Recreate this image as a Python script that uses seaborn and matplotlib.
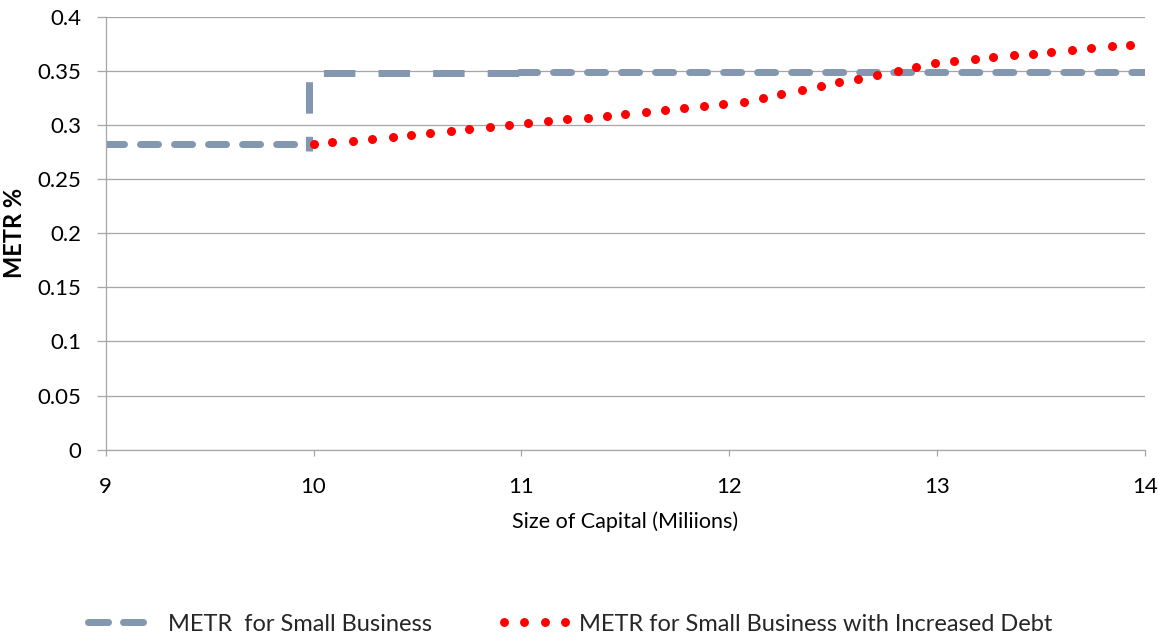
import matplotlib
matplotlib.use("Agg")
import matplotlib.pyplot as plt
from matplotlib.lines import Line2D
import seaborn as sns

# METR for a small business: flat below 10M capital, step up at the threshold
base_low_x = [9.0, 9.98]
base_low_y = [0.2826, 0.2826]
base_step_x = [9.98, 9.98, 10.99]
base_step_y = [0.276, 0.3483, 0.3483]
base_high_x = [10.99, 14.0]
base_high_y = [0.3495, 0.3495]

# METR for a small business with increased debt
debt_x = [10.00, 10.09, 10.19, 10.28, 10.38, 10.47, 10.56, 10.66, 10.75, 10.85,
          10.94, 11.03, 11.13, 11.22, 11.32, 11.41, 11.50, 11.60, 11.69, 11.78,
          11.88, 11.97, 12.07, 12.16, 12.25, 12.35, 12.44, 12.53, 12.62, 12.71,
          12.81, 12.90, 12.99, 13.08, 13.18, 13.27, 13.37, 13.46, 13.55, 13.65,
          13.74, 13.84, 13.93]
debt_y = [0.2829, 0.2844, 0.2859, 0.2875, 0.2896, 0.2915, 0.2933, 0.2949, 0.2968, 0.2986,
          0.3005, 0.3023, 0.3039, 0.3055, 0.3072, 0.3088, 0.3109, 0.3125, 0.3144, 0.3159,
          0.3178, 0.3196, 0.3220, 0.3257, 0.3294, 0.3329, 0.3366, 0.3398, 0.3433, 0.3470,
          0.3505, 0.3542, 0.3579, 0.3597, 0.3613, 0.3631, 0.3650, 0.3665, 0.3681, 0.3696,
          0.3715, 0.3733, 0.3748]

x_ticks = [9, 10, 11, 12, 13, 14]
y_ticks = [0, 0.05, 0.1, 0.15, 0.2, 0.25, 0.3, 0.35, 0.4]
y_tick_labels = ["0", "0.05", "0.1", "0.15", "0.2", "0.25", "0.3", "0.35", "0.4"]

series_names = ["METR  for Small Business", "METR for Small Business with Increased Debt"]

GRAY = "#8497B0"
RED = "#FF0000"
AXIS = "#A6A6A6"
LW = 5.04  # ~7 px

sns.set_theme(style="white")
plt.rcParams["font.family"] = ["Lato", "DejaVu Sans"]

fig = plt.figure(figsize=(11.59, 6.37), dpi=100)
ax = fig.add_axes([0.0912, 0.2943, 0.8967, 0.6785])

round_dash = (0, (2.57, 2.29))
butt_dash = (2.4, (4.5, 3.3))

sns.lineplot(x=base_low_x, y=base_low_y, ax=ax, color=GRAY, linewidth=LW,
             sort=False, estimator=None, linestyle=round_dash,
             dash_capstyle="round", zorder=2)
sns.lineplot(x=base_step_x, y=base_step_y, ax=ax, color=GRAY, linewidth=LW,
             sort=False, estimator=None, linestyle=butt_dash,
             dash_capstyle="butt", zorder=2)
sns.lineplot(x=base_high_x, y=base_high_y, ax=ax, color=GRAY, linewidth=LW,
             sort=False, estimator=None, linestyle=round_dash,
             dash_capstyle="round", zorder=2)
sns.scatterplot(x=debt_x, y=debt_y, ax=ax, color=RED, s=42, linewidth=0, zorder=3)

ax.set_xlim(9, 14)
ax.set_ylim(0, 0.4)
ax.set_xticks(x_ticks)
ax.set_xticklabels([str(t) for t in x_ticks])
ax.set_yticks(y_ticks)
ax.set_yticklabels(y_tick_labels)

ax.set_axisbelow(True)
ax.yaxis.grid(True, color=AXIS, linewidth=0.9)
ax.xaxis.grid(False)
for side in ["top", "right"]:
    ax.spines[side].set_visible(False)
for side in ["left", "bottom"]:
    ax.spines[side].set_color(AXIS)
    ax.spines[side].set_linewidth(0.9)

ax.tick_params(axis="y", left=True, length=6.5, width=0.9, color=AXIS, pad=11,
               labelsize=16, labelcolor="black")
ax.tick_params(axis="x", bottom=True, length=4.5, width=0.9, color=AXIS, pad=15,
               labelsize=16, labelcolor="black")

ax.set_xlabel("Size of Capital (Miliions)", fontsize=15.5, labelpad=11, color="black")
ax.set_ylabel("METR %", fontsize=17, fontweight="bold", labelpad=8, color="black")

h_base = Line2D([], [], color=GRAY, linewidth=LW, linestyle=(0, (2.86, 2.14)),
                dash_capstyle="round")
h_debt = Line2D([], [], color=RED, marker="o", linestyle="None", markersize=6.4,
                markeredgewidth=0)

fig.legend([h_base], [series_names[0]], loc="center left",
           bbox_to_anchor=(0.0759, 0.020), frameon=False, handlelength=2.63,
           handletextpad=0.76, borderpad=0, borderaxespad=0, fontsize=17)
fig.legend([h_debt], [series_names[1]], loc="center left",
           bbox_to_anchor=(0.4287, 0.020), frameon=False, handlelength=3.19,
           handletextpad=0.3, borderpad=0, borderaxespad=0, fontsize=17,
           numpoints=4)

fig.savefig("out.png", dpi=100)
